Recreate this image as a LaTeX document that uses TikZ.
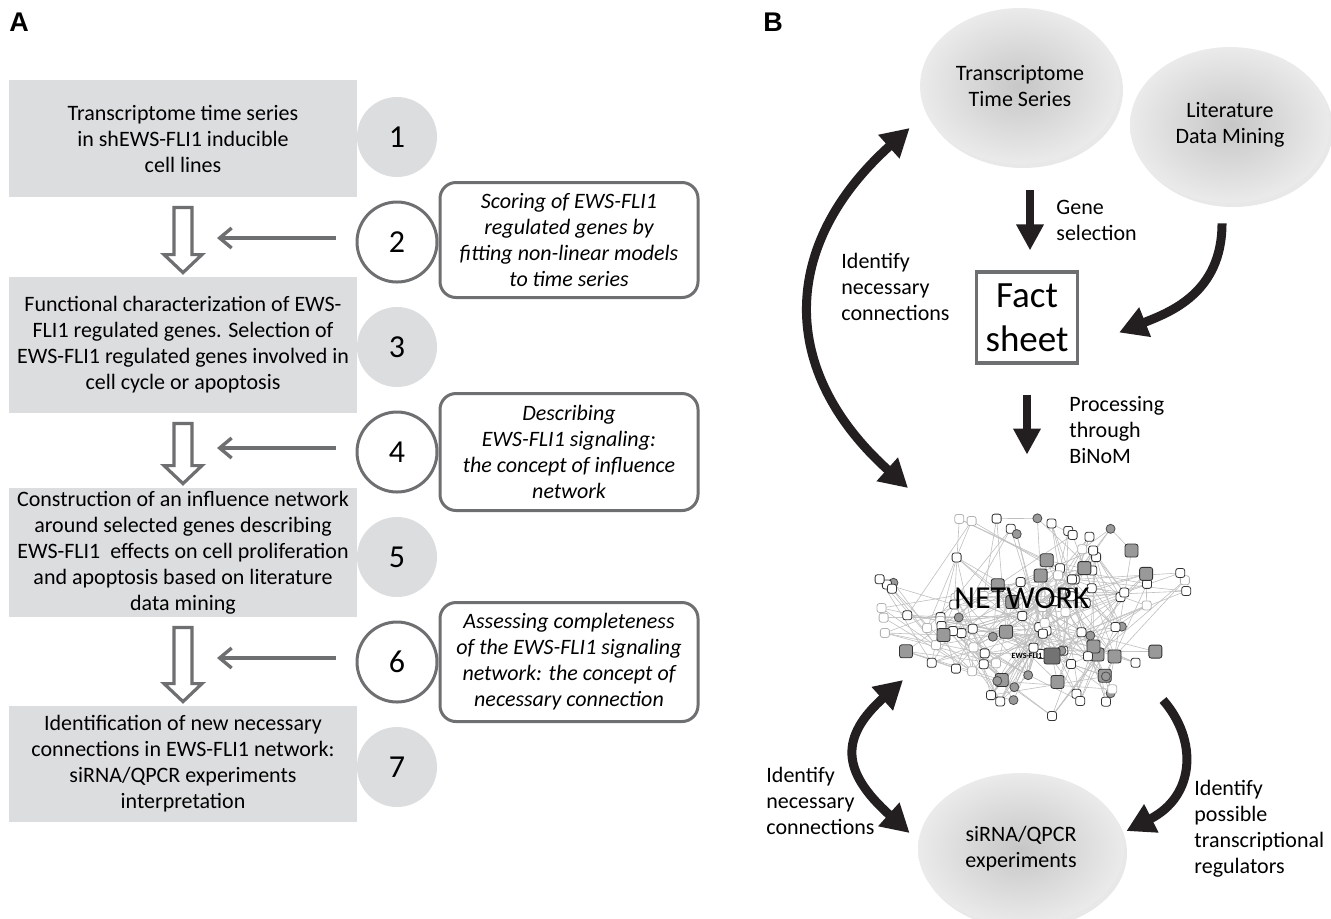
\documentclass[tikz,border=0pt]{standalone}
\usepackage{fontspec}
\setmainfont{Carlito}
\newfontfamily\panelfont{Liberation Sans}
\usetikzlibrary{arrows.meta,calc,shapes.geometric,shadows,positioning}
\definecolor{boxgray}{RGB}{220,221,222}
\definecolor{linegray}{RGB}{110,111,113}
\definecolor{inkblack}{RGB}{35,31,32}

\begin{document}
\begin{tikzpicture}[x=0.5pt,y=-0.5pt,
    font=\fontsize{11}{13}\selectfont,
    panel/.style={font=\panelfont\bfseries\fontsize{13.5}{15}\selectfont},
    stepbox/.style={rectangle,fill=boxgray,minimum width=174pt,align=center,inner sep=0pt},
    numdisc/.style={circle,fill=boxgray,minimum size=40pt,inner sep=0pt,font=\fontsize{16}{16}\selectfont},
    numring/.style={numdisc,fill=white,draw=linegray,line width=1.5pt},
    notebox/.style={rectangle,rounded corners=8pt,draw=linegray,line width=1.5pt,minimum width=129pt,align=center,font=\fontsize{11}{13}\selectfont\itshape},
    hollow/.style={draw=linegray,line width=1.6pt,fill=white},
    thinarrow/.style={draw=linegray,line width=1.7pt,-{Straight Barb[length=6pt,width=10pt]}},
    blob/.style={ellipse,align=center,shading=radial,inner color=black!22,outer color=black!8,
      drop shadow={shadow xshift=1.5pt,shadow yshift=-2pt,opacity=0.18}},
    bigarrow/.style={draw=inkblack,line width=4.5pt,-{Triangle[length=14pt,width=15pt]}},
    bigboth/.style={bigarrow,{Triangle[length=14pt,width=15pt]}-{Triangle[length=14pt,width=15pt]}},
    downarrow/.style={draw=inkblack,line width=4pt,-{Triangle[length=13pt,width=13pt]}},
    sidelabel/.style={anchor=west,align=left,inner sep=0pt},
    netedge/.style={draw=black!25,line width=0.3pt},
    netnode/.style={rectangle,rounded corners=1.2pt,draw=black!80,fill=white,minimum size=4.5pt,inner sep=0pt,line width=0.4pt},
    hubnode/.style={netnode,fill=black!40,minimum size=6.5pt},
    faintnode/.style={netnode,draw=black!30},
    dotnode/.style={circle,draw=black!70,fill=black!40,minimum size=4.5pt,inner sep=0pt,line width=0.4pt}]
  \useasboundingbox (0,0) rectangle (1331,918);

  % panel A
  \node[panel] (lblA) at (19,22) {A};
  \node[stepbox,minimum height=58.5pt] (b1) at (183,138.5) {Transcriptome time series\\in shEWS-FLI1 inducible\\cell lines};
  \node[numdisc] (c1) at (397,137) {1};
  \node[numring] (c2) at (397,242) {2};
  \node[notebox,minimum height=57.5pt] (r2) at (569,240) {Scoring of EWS-FLI1\\regulated genes by\\fitting non-linear models\\to time series};
  \node[stepbox,minimum height=68pt] (b3) at (183,345) {Functional characterization of EWS-\\FLI1 regulated genes. Selection of\\EWS-FLI1 regulated genes involved in\\cell cycle or apoptosis};
  \node[numdisc] (c3) at (397,347) {3};
  \node[numring] (c4) at (397,452) {4};
  \node[notebox,minimum height=58.5pt] (r4) at (569,452) {Describing\\EWS-FLI1 signaling:\\the concept of influence\\network};
  \node[stepbox,minimum height=64.5pt] (b5) at (183,552.5) {Construction of an influence network\\around selected genes describing\\EWS-FLI1~ effects on cell proliferation\\and apoptosis based on literature\\data mining};
  \node[numdisc] (c5) at (397,557) {5};
  \node[numring] (c6) at (397,662) {6};
  \node[notebox,minimum height=59.5pt] (r6) at (569,662) {Assessing completeness\\of the EWS-FLI1 signaling\\network: the concept of\\necessary connection};
  \node[stepbox,minimum height=58pt] (b7) at (183,764) {Identification of new necessary\\connections in EWS-FLI1 network:\\siRNA/QPCR experiments\\interpretation};
  \node[numdisc] (c7) at (397,767) {7};

  \foreach \u/\v in {b1/b3,b3/b5,b5/b7}
    \draw[hollow] ($(\u.south)+(-9,10)$) -- ($(\v.north)+(-9,-22)$) -- ++(-10,0) -- ($(\v.north)+(0,-4)$)
      -- ($(\v.north)+(19,-22)$) -- ++(-10,0) -- ($(\u.south)+(9,10)$) -- cycle;
  \foreach \c/\u in {c2/b1,c4/b3,c6/b5}
    \draw[thinarrow] ($(\c.west)+(-20,-4)$) -- ($(\u.south |- \c.west)+(34,-4)$);

  % panel B
  \node[panel] (lblB) at (773,22) {B};
  \node[blob,minimum width=98pt,minimum height=78pt] (ts) at (1020,86) {Transcriptome\\Time Series};
  \node[blob,minimum width=100pt,minimum height=78pt] (lit) at (1230,125) {Literature\\Data Mining};
  \node[draw=linegray,line width=1.6pt,fill=white,minimum width=50.5pt,minimum height=45.5pt,
    align=center,inner sep=0pt,font=\fontsize{18.5}{22}\selectfont] (fact) at (1027,317.5) {Fact\\sheet};
  \node[blob,minimum width=103pt,minimum height=76pt] (sirna) at (1021,849) {siRNA/QPCR\\experiments};

  \draw[downarrow] ($(fact.north)+(3,-80)$) -- ($(fact.north)+(3,-20)$);
  \node[sidelabel] (gsel) at (1056,220) {Gene\\selection};
  \draw[bigarrow] ($(lit.south)+(-8,20)$) .. controls +(0,70) and +(50,-20) .. ($(fact.east)+(40,15)$);
  \draw[downarrow] ($(fact.south)+(0,30)$) -- ($(fact.south)+(0,90)$);
  \node[sidelabel] (proc) at (1069,430) {Processing\\through\\BiNoM};

  % network cloud
  \pgfmathsetseed{42}
  \foreach \i in {1,...,96}{
    \pgfmathsetmacro\rr{sqrt(rnd)}
    \pgfmathsetmacro\aa{360*rnd}
    \pgfmathsetmacro\nx{1030+158*\rr*cos(\aa)}
    \pgfmathsetmacro\ny{598+90*\rr*sin(\aa)}
    \expandafter\xdef\csname nx\i\endcsname{\nx}
    \expandafter\xdef\csname ny\i\endcsname{\ny}
    \coordinate (n\i) at (\nx,\ny);
  }
  \foreach \i in {97,...,110}{
    \pgfmathsetmacro\nx{990+130*rnd}
    \pgfmathsetmacro\ny{668+50*rnd}
    \expandafter\xdef\csname nx\i\endcsname{\nx}
    \expandafter\xdef\csname ny\i\endcsname{\ny}
    \coordinate (n\i) at (\nx,\ny);
  }
  \foreach \i in {1,...,110}{
    \foreach \k in {1,...,5}{
      \pgfmathtruncatemacro\j{random(1,110)}
      \pgfmathtruncatemacro\d{veclen(\csname nx\i\endcsname-\csname nx\j\endcsname,\csname ny\i\endcsname-\csname ny\j\endcsname)}
      \ifnum\d<120 \draw[netedge] (n\i) -- (n\j); \fi
    }
  }
  \foreach \i in {1,...,110}{
    \pgfmathtruncatemacro\kind{random(1,20)}
    \ifnum\kind<4 \node[hubnode] (m\i) at (n\i) {};
    \else\ifnum\kind<14 \node[netnode] (m\i) at (n\i) {};
    \else\ifnum\kind<19 \node[faintnode] (m\i) at (n\i) {};
    \else \node[dotnode] (m\i) at (n\i) {};
    \fi\fi\fi
  }
  \node[hubnode,fill=black!55,minimum size=8pt] (ews) at (1052,656) {};
  \node[left=0.5pt of ews,inner sep=0pt,font=\bfseries\fontsize{4}{4}\selectfont] (ewstag) {EWS-FLI1};
  \node[font=\fontsize{16}{19}\selectfont] (net) at (1022,598) {NETWORK};
  \coordinate (netin) at (908,488);
  \coordinate (netout) at (903,680);
  \coordinate (netreg) at (1163,700);

  \draw[bigboth] ($(ts.west)+(-10,42)$) .. controls +(-130,117) and +(-130,-117) .. (netin);
  \node[sidelabel] (idup) at (841,287) {Identify\\necessary\\connections};
  \draw[bigboth] (netout) .. controls +(-63,57) and +(-69,-62) .. ($(sirna.west)+(-8,-16)$);
  \node[sidelabel] (idlow) at (766,801) {Identify\\necessary\\connections};
  \draw[bigarrow] (netreg) .. controls +(35,40) and +(69,-35) .. ($(sirna.east)+(2,-18)$);
  \node[sidelabel] (idreg) at (1194,829) {Identify\\possible\\transcriptional\\regulators};
\end{tikzpicture}
\end{document}
